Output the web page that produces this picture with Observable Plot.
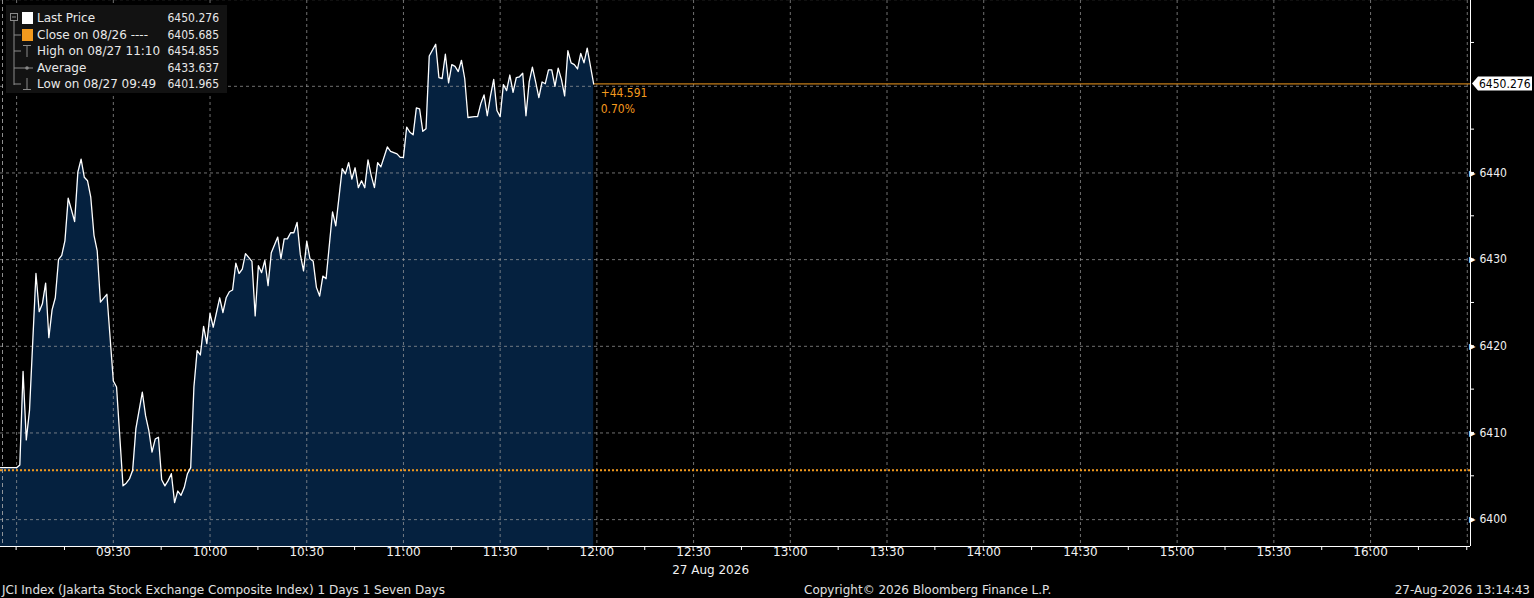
<!DOCTYPE html>
<html>
<head>
<meta charset="utf-8">
<script src="https://cdn.jsdelivr.net/npm/d3@7"></script>
<script src="https://cdn.jsdelivr.net/npm/@observablehq/plot@0.6"></script>
<style>
  body { margin: 0; background: #000; }
  #wrap { position: relative; width: 1534px; height: 598px; background: #000; overflow: hidden;
          font-family: "DejaVu Sans", sans-serif; color: #e8e8e8; }
  #legend { position: absolute; left: 6px; top: 5px; width: 221px; height: 88px; background: #121212; font-size: 12px; }
  .row { position: absolute; left: 0; width: 213px; height: 16px; line-height: 16px; white-space: pre; }
  .row .lab { position: absolute; left: 31px; }
  .row .val { position: absolute; right: 0; font-family: "DejaVu Sans Condensed", "DejaVu Sans", sans-serif; }
  #footer { position: absolute; left: 0; top: 582px; width: 1534px; height: 16px; font-size: 12px; line-height: 16px; color: #e0e0e0; }
  #footer span { position: absolute; top: 0; white-space: pre; }
</style>
</head>
<body>
<div id="wrap">
  <div id="chart"></div>
  <div id="legend"></div>
  <div id="footer"></div>
</div>
<script>
// JCI intraday, 27 Aug 2026 (one point per minute)
const times = [
  "08:55","09:00","09:01","09:02","09:03","09:04","09:06","09:07","09:08","09:09",
  "09:10","09:11","09:12","09:13","09:14","09:15","09:16","09:18","09:19","09:20",
  "09:21","09:22","09:23","09:24","09:25","09:26","09:28","09:30","09:31","09:33",
  "09:34","09:35","09:36","09:37","09:39","09:40","09:41","09:42","09:43","09:44",
  "09:45","09:46","09:47","09:48","09:49","09:50","09:51","09:52","09:53","09:54",
  "09:55","09:56","09:57","09:58","09:59","10:00","10:01","10:02","10:03","10:04",
  "10:05","10:06","10:07","10:08","10:09","10:10","10:11","10:13","10:14","10:15",
  "10:16","10:17","10:18","10:19","10:21","10:22","10:23","10:24","10:25","10:26",
  "10:27","10:28","10:29","10:30","10:31","10:32","10:33","10:34","10:35","10:36",
  "10:38","10:39","10:41","10:42","10:43","10:44","10:45","10:46","10:47","10:48",
  "10:49","10:50","10:51","10:52","10:53","10:55","10:56","10:58","10:59","11:00",
  "11:01","11:02","11:03","11:04","11:05","11:06","11:07","11:08","11:10","11:11",
  "11:12","11:13","11:14","11:15","11:16","11:17","11:18","11:19","11:20","11:22",
  "11:23","11:24","11:25","11:26","11:27","11:28","11:29","11:30","11:31","11:32",
  "11:33","11:34","11:35","11:36","11:37","11:38","11:39","11:40","11:41","11:42",
  "11:43","11:44","11:45","11:46","11:47","11:48","11:49","11:50","11:51","11:52",
  "11:53","11:54","11:55","11:56","11:57","11:59"
]
const prices = [
  6406.0, 6406.0, 6406.3, 6417.1, 6409.2, 6412.6, 6428.4, 6424.0, 6424.9, 6427.3,
  6421.0, 6424.2, 6425.6, 6430.0, 6430.5, 6432.2, 6437.1, 6434.4, 6440.1, 6441.6,
  6439.5, 6439.1, 6437.2, 6432.8, 6431.0, 6425.1, 6426.0, 6416.0, 6415.3, 6403.9,
  6404.2, 6404.7, 6405.7, 6410.5, 6414.7, 6412.0, 6410.3, 6407.8, 6409.3, 6409.5,
  6404.6, 6403.9, 6404.5, 6405.3, 6401.965, 6403.3, 6402.8, 6403.7, 6405.3, 6406.0,
  6415.3, 6419.5, 6419.0, 6422.3, 6420.3, 6423.8, 6422.2, 6423.9, 6425.6, 6423.9,
  6425.6, 6426.3, 6426.5, 6429.6, 6428.4, 6428.9, 6430.7, 6429.8, 6423.5, 6429.3,
  6428.5, 6429.9, 6427.0, 6430.8, 6432.6, 6430.1, 6432.4, 6432.4, 6433.1, 6433.1,
  6434.3, 6430.6, 6428.7, 6432.1, 6430.1, 6429.8, 6426.8, 6425.8, 6428.1, 6427.8,
  6435.5, 6433.9, 6440.5, 6439.9, 6441.2, 6439.3, 6440.6, 6438.3, 6439.1, 6438.3,
  6441.5, 6439.7, 6438.3, 6441.2, 6440.7, 6443.0, 6442.5, 6442.2, 6441.8, 6441.8,
  6445.3, 6444.7, 6444.4, 6447.5, 6447.4, 6444.8, 6445.1, 6453.5, 6454.855, 6451.0,
  6450.9, 6453.7, 6450.4, 6452.5, 6452.3, 6451.7, 6453.0, 6450.9, 6446.4, 6446.5,
  6446.5, 6448.0, 6449.0, 6446.6, 6448.9, 6450.8, 6447.2, 6446.5, 6450.2, 6449.5,
  6451.3, 6449.3, 6451.0, 6451.1, 6451.5, 6446.6, 6450.5, 6452.2, 6450.5, 6448.7,
  6450.5, 6450.3, 6451.9, 6451.9, 6450.0, 6452.1, 6450.8, 6448.9, 6454.1, 6452.7,
  6452.5, 6452.0, 6453.8, 6452.7, 6454.4, 6450.276
]

const closePrev = 6405.685
const lastPrice = 6450.276

const legendLabels = ["Last Price", "Close on 08/26 ----", "High on 08/27 11:10", "Average", "Low on 08/27 09:49"]
const legendValues = ["6450.276", "6405.685", "6454.855", "6433.637", "6401.965"]

const yTicks = [6400, 6410, 6420, 6430, 6440, 6450, 6460]
const yLabels = [6400, 6410, 6420, 6430, 6440]
const yMinor = [6405, 6415, 6425, 6435, 6445, 6455]
const xLabels = ["09:30","10:00","10:30","11:00","11:30","12:00","12:30","13:00","13:30","14:00","14:30","15:00","15:30","16:00"]
const xGrid = ["09:00","09:30","10:00","10:30","11:00","11:30","12:00","12:30","13:00","13:30","14:00","14:30","15:00","15:30","16:00","16:30"]
const dateLabel = "27 Aug 2026"

const orange = "#f39a1e"
const narrow = '"DejaVu Sans Condensed", "DejaVu Sans", sans-serif'
const parseT = d3.utcParse("%H:%M")
const t0 = parseT("08:55"), t1 = parseT("16:31")
const yLo = 6396.9, yHi = 6459.9
const quarterHours = d3.utcMinute.every(15).range(parseT("09:00"), t1)

const data = times.map((t, i) => ({time: parseT(t), price: prices[i]}))
const last = data[data.length - 1]
const chg = lastPrice - closePrev

let chart = Plot.plot({
  width: 1534,
  height: 582,
  marginLeft: 0,
  marginRight: 64,
  marginTop: 0,
  marginBottom: 36,
  x: {type: 'utc', domain: [t0, t1], label: null, axis: null},
  y: {domain: [yLo, yHi], label: null, axis: null},
  style: {
    background: '#000',
    color: '#fff',
    fontFamily: '"DejaVu Sans", sans-serif',
    fontSize: '12px',
    overflow: 'visible'
  },
  marks: [
    Plot.areaY(data, {x: 'time', y1: yLo, y2: 'price', fill: '#05213f'}),
    Plot.gridX(xGrid.map(parseT), {stroke: '#a0a0a0', strokeOpacity: 0.7, strokeDasharray: '3,3'}),
    Plot.gridY(yTicks, {stroke: '#a0a0a0', strokeOpacity: 0.7, strokeDasharray: '3,3'}),
    Plot.ruleX([t0], {stroke: '#b0b0b0', strokeOpacity: 0.8, strokeDasharray: '4,3', dx: 2}),
    Plot.ruleY([closePrev], {stroke: orange, strokeWidth: 2, strokeDasharray: '2,2'}),
    Plot.ruleY([lastPrice], {x1: last.time, x2: t1, stroke: orange, strokeWidth: 1}),
    Plot.lineY(data, {x: 'time', y: 'price', stroke: '#fff', strokeWidth: 1.3}),
    // change vs previous close
    Plot.text([lastPrice], {x: () => last.time, y: d => d, text: d => '+' + (d - closePrev).toFixed(3),
      dx: 7, dy: 9, textAnchor: 'start', fill: orange, fontFamily: narrow, fontSize: 12}),
    Plot.text([lastPrice], {x: () => last.time, y: d => d, text: d => (chg / closePrev * 100).toFixed(2) + '%',
      dx: 7, dy: 25, textAnchor: 'start', fill: orange, fontFamily: narrow, fontSize: 12}),
    // axis lines and labels
    Plot.ruleX([t1], {stroke: '#fff'}),
    Plot.ruleY([yLo], {stroke: '#fff'}),
    Plot.text(yLabels, {y: d => d, frameAnchor: 'right', text: () => '\u25B6', dx: 5, fontSize: 8, fill: '#fff'}),
    Plot.text(yLabels, {y: d => d, frameAnchor: 'right', text: d => String(d), dx: 9, textAnchor: 'start',
      fill: '#f0f0f0', fontFamily: narrow, fontSize: 12}),
    Plot.text(xLabels.map(parseT), {x: d => d, frameAnchor: 'bottom', dy: 9, text: d => d3.utcFormat('%H:%M')(d),
      fill: '#f0f0f0', fontSize: 12}),
    Plot.text([dateLabel], {x: () => parseT("12:30"), frameAnchor: 'bottom', dx: 17, dy: 27, fill: '#f0f0f0', fontSize: 12})
  ]
})

d3.select('#chart').append(() => chart)

// tick stubs on both axes, last price tag on the right axis
const svg = d3.select(chart)
const xs = chart.scale('x'), ys = chart.scale('y')
const xr = xs.apply(t1)
const yb = ys.apply(yLo)
const yp = ys.apply(lastPrice)
svg.append('g').selectAll('line')
  .data(quarterHours)
  .join('line')
  .attr('x1', d => xs.apply(d)).attr('x2', d => xs.apply(d))
  .attr('y1', yb).attr('y2', yb + 4)
  .attr('stroke', '#fff')
svg.append('g').selectAll('line')
  .data(yLabels.concat(yMinor))
  .join('line')
  .attr('x1', xr).attr('x2', xr + 4)
  .attr('y1', d => ys.apply(d)).attr('y2', d => ys.apply(d))
  .attr('stroke', '#fff')
svg.append('polygon')
  .attr('points', [[xr + 2, yp], [xr + 8, yp - 7], [1532, yp - 7], [1532, yp + 7], [xr + 8, yp + 7]].join(' '))
  .attr('fill', '#fff')
svg.append('text')
  .attr('x', xr + 9).attr('y', yp).attr('dy', '0.35em')
  .attr('text-anchor', 'start')
  .attr('font-family', narrow)
  .attr('fill', '#000').attr('font-size', 12)
  .text(lastPrice.toFixed(3))

// legend box
const legend = d3.select('#legend')
const icons = legend.append('svg').attr('width', 31).attr('height', 88)
  .style('position', 'absolute').style('left', 0).style('top', 0)
const g = '#8a8a8a'
icons.append('rect').attr('x', 4.5).attr('y', 8.5).attr('width', 7).attr('height', 7).attr('fill', 'none').attr('stroke', g)
icons.append('line').attr('x1', 6).attr('x2', 10).attr('y1', 12).attr('y2', 12).attr('stroke', g)
icons.append('line').attr('x1', 8).attr('x2', 8).attr('y1', 16).attr('y2', 80).attr('stroke', g)
;[30, 46, 63, 79].forEach(y => icons.append('line').attr('x1', 8).attr('x2', 15).attr('y1', y).attr('y2', y).attr('stroke', g))
icons.append('rect').attr('x', 16).attr('y', 7).attr('width', 11).attr('height', 12).attr('fill', '#fff')
icons.append('rect').attr('x', 16).attr('y', 24).attr('width', 11).attr('height', 12).attr('fill', orange)
icons.append('path').attr('d', 'M17,40.5H25M21,40.5V52').attr('stroke', g).attr('fill', 'none')
icons.append('path').attr('d', 'M15,63H27').attr('stroke', g)
icons.append('circle').attr('cx', 21).attr('cy', 63).attr('r', 1.8).attr('fill', g)
icons.append('path').attr('d', 'M21,73V84.5M17,84.5H25').attr('stroke', g).attr('fill', 'none')

legendLabels.forEach((lab, i) => {
  const row = legend.append('div').attr('class', 'row').style('top', [5, 22, 38, 55, 71][i] + 'px')
  row.append('span').attr('class', 'lab').text(lab)
  row.append('span').attr('class', 'val').text(legendValues[i])
})

// footer
const footer = d3.select('#footer')
footer.append('span').style('left', '2px').text('JCI Index (Jakarta Stock Exchange Composite Index) 1 Days 1 Seven Days')
footer.append('span').style('left', '804px').text('Copyright\u00A9 2026 Bloomberg Finance L.P.')
footer.append('span').style('right', '4px').text('27-Aug-2026 13:14:43')
</script>
</body>
</html>
